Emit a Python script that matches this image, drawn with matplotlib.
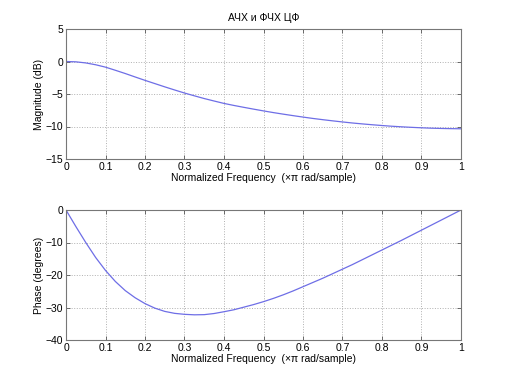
import matplotlib
matplotlib.use("Agg")
import matplotlib.pyplot as plt

plt.rcParams['font.family'] = ['Liberation Sans', 'DejaVu Sans']

freq = [0.0, 0.025, 0.05, 0.075, 0.1, 0.125, 0.15, 0.175, 0.2, 0.225, 0.25,
        0.275, 0.3, 0.325, 0.35, 0.375, 0.4, 0.425, 0.45, 0.475, 0.5,
        0.525, 0.55, 0.575, 0.6, 0.625, 0.65, 0.675, 0.7, 0.725, 0.75,
        0.775, 0.8, 0.825, 0.85, 0.875, 0.9, 0.925, 0.95, 0.975, 1.0]
magnitude_db = [0.0, -0.05, -0.22, -0.5, -0.87, -1.35, -1.85, -2.38, -2.9, -3.4, -3.9,
                -4.38, -4.85, -5.28, -5.7, -6.08, -6.45, -6.76, -7.05, -7.33, -7.6,
                -7.86, -8.1, -8.33, -8.55, -8.76, -8.95, -9.13, -9.3, -9.46, -9.6,
                -9.73, -9.85, -9.96, -10.05, -10.13, -10.2, -10.26, -10.3, -10.33, -10.35]
phase_deg = [0.0, -5.1, -10.0, -14.6, -18.6, -22.0, -24.8, -27.0, -28.8, -30.2, -31.2,
             -31.8, -32.1, -32.25, -32.2, -31.85, -31.3, -30.7, -29.9, -29.1, -28.2,
             -27.2, -26.1, -24.9, -23.6, -22.3, -21.0, -19.6, -18.2, -16.8, -15.3,
             -13.8, -12.3, -10.8, -9.3, -7.75, -6.2, -4.65, -3.1, -1.55, 0.0]

x_ticks = [0, 0.1, 0.2, 0.3, 0.4, 0.5, 0.6, 0.7, 0.8, 0.9, 1]
x_tick_labels = ['0', '0.1', '0.2', '0.3', '0.4', '0.5', '0.6', '0.7', '0.8', '0.9', '1']
mag_ticks = [-15, -10, -5, 0, 5]
phase_ticks = [-40, -30, -20, -10, 0]

title = 'АЧХ и ФЧХ ЦФ'
xlabel = 'Normalized Frequency  (×π rad/sample)'

fig = plt.figure(figsize=(5.10, 3.82), dpi=100)
fig.patch.set_facecolor('white')

W, H = 510, 382
def rect(l, t, r, b):
    return [l / W, 1 - b / H, (r - l) / W, (b - t) / H]

ax1 = fig.add_axes(rect(66, 29, 461, 159))
ax2 = fig.add_axes(rect(66, 210, 461, 340))

line_color = '#6e6ee6'
fs = 7.5

for ax, y, yt, ylim, ylab in [
        (ax1, magnitude_db, mag_ticks, (-15, 5), 'Magnitude (dB)'),
        (ax2, phase_deg, phase_ticks, (-40, 0), 'Phase (degrees)')]:
    ax.plot(freq, y, color=line_color, lw=0.9)
    ax.set_xlim(0, 1)
    ax.set_ylim(*ylim)
    ax.set_xticks(x_ticks)
    ax.set_xticklabels(x_tick_labels)
    ax.set_yticks(yt)
    ax.grid(True, linestyle=':', color='#b0b0b0', linewidth=0.7)
    ax.tick_params(direction='in', top=True, right=True, length=3, width=0.6,
                   colors='#555555', labelcolor='black', labelsize=fs, pad=2)
    for s in ax.spines.values():
        s.set_color('#777777')
        s.set_linewidth(0.8)
    ax.set_xlabel(xlabel, fontsize=fs, labelpad=1)
    ax.set_ylabel(ylab, fontsize=fs, labelpad=1)

ax1.set_title(title, fontsize=fs, pad=6)

fig.savefig('out.png', dpi=100, facecolor='white')
